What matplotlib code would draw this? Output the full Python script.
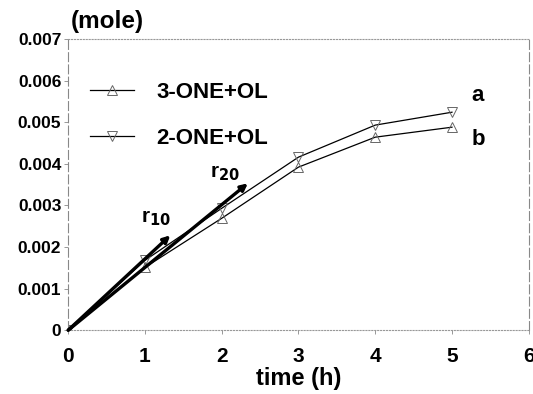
import matplotlib.pyplot as plt

plt.rcParams['font.family'] = ['Liberation Sans', 'DejaVu Sans']
plt.rcParams['font.weight'] = 'bold'
plt.rcParams['mathtext.default'] = 'bf'

# data
time_h = [0, 1, 2, 3, 4, 5]
ol_3one = [0, 0.00151, 0.00269, 0.00392, 0.00464, 0.00488]  # up triangles (b)
ol_2one = [0, 0.00168, 0.00293, 0.00416, 0.00493, 0.00524]  # down triangles (a)

# initial-rate tangents: end points of the arrows
r10_end = (1.33, 0.00228)
r20_end = (2.34, 0.00353)

xticks = [0, 1, 2, 3, 4, 5, 6]
yticks = [0, 0.001, 0.002, 0.003, 0.004, 0.005, 0.006, 0.007]
ytick_labels = ['0', '0.001', '0.002', '0.003', '0.004', '0.005', '0.006', '0.007']

fig = plt.figure(figsize=(5.33, 3.94), dpi=100)
ax = fig.add_axes([0.128, 0.162, 0.864, 0.739])

ax.plot(time_h, ol_3one, color='black', lw=0.9, marker='^', ms=7,
        mfc='none', mec='#666666', mew=0.7, label='3-ONE+OL')
ax.plot(time_h, ol_2one, color='black', lw=0.9, marker='v', ms=7,
        mfc='none', mec='#666666', mew=0.7, label='2-ONE+OL')

# tangent arrows
for end in (r10_end, r20_end):
    ax.annotate('', xy=end, xytext=(0, 0),
                arrowprops=dict(arrowstyle='-|>', color='black', lw=2.4,
                                mutation_scale=10, shrinkA=0, shrinkB=0))
ax.text(0.95, 0.00258, r'r$_{10}$', fontsize=15)
ax.text(1.85, 0.00368, r'r$_{20}$', fontsize=15)

ax.text(5.25, 0.00565, 'a', fontsize=16, va='center')
ax.text(5.25, 0.00458, 'b', fontsize=16, va='center')

ax.set_xlim(0, 6)
ax.set_ylim(0, 0.007)
ax.set_xticks(xticks)
ax.set_yticks(yticks)
ax.set_yticklabels(ytick_labels)
ax.tick_params(length=3, width=0.6, color='#888888')
ax.tick_params(axis='y', labelsize=12.5, pad=2)
ax.tick_params(axis='x', labelsize=15, pad=9)

for side in ['top', 'bottom']:
    ax.spines[side].set_linestyle(':')
    ax.spines[side].set_color('#999999')
    ax.spines[side].set_linewidth(0.8)
for side in ['left', 'right']:
    ax.spines[side].set_linestyle((0, (8, 3)))
    ax.spines[side].set_color('#888888')
    ax.spines[side].set_linewidth(0.8)

ax.set_xlabel('time (h)', fontsize=17, fontweight='bold', labelpad=1)
fig.text(0.132, 0.945, '(mole)', fontsize=17.5, va='center')

ax.legend(loc='upper left', bbox_to_anchor=(0.047, 0.852), frameon=False,
          fontsize=16, handlelength=2.0, handletextpad=1.0, labelspacing=1.1,
          borderpad=0, borderaxespad=0)

plt.savefig('out.png', dpi=100)
